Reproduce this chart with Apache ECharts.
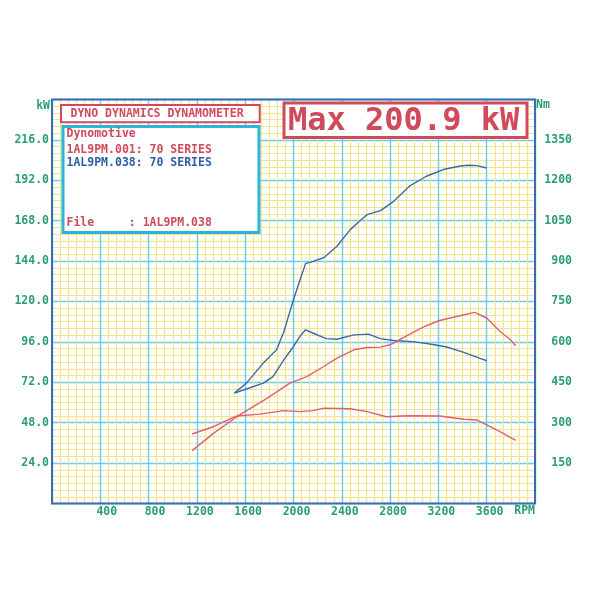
<!DOCTYPE html>
<html>
<head>
<meta charset="utf-8">
<script src="https://cdn.jsdelivr.net/npm/echarts@6/dist/echarts.min.js"></script>
<style>html,body{margin:0;padding:0;background:#fff}#c{width:600px;height:600px}</style>
</head>
<body>
<div id="c"></div>
<script>
// ---- data ----
const xTicks = [400, 800, 1200, 1600, 2000, 2400, 2800, 3200, 3600];
const kwTicks = [24, 48, 72, 96, 120, 144, 168, 192, 216];
const nmTicks = [150, 300, 450, 600, 750, 900, 1050, 1200, 1350];

// run 038 (blue)
const bluePowerRpm = [1510, 1610, 1750, 1860, 1920, 1970, 2000, 2050, 2100, 2160, 2250, 2360, 2470, 2550, 2610, 2720, 2830, 2960, 3100, 3240, 3380, 3450, 3520, 3600];
const bluePowerKw  = [65.6, 71.5, 83.4, 91.3, 102, 114, 121, 132, 142.5, 143.8, 146, 152.8, 162.7, 168, 171.6, 174, 179.5, 188.5, 194.4, 198.4, 200.5, 200.9, 200.7, 199.3];
const blueTorqueRpm = [1510, 1610, 1750, 1830, 1920, 2000, 2060, 2100, 2160, 2270, 2360, 2500, 2620, 2720, 2830, 2990, 3130, 3270, 3410, 3540, 3600];
const blueTorqueNm  = [410, 425, 447, 471, 533, 583, 625, 645, 633, 612, 610, 626, 629, 612, 605, 601, 592, 581, 561, 540, 530];

// run 001 (red)
const redPowerRpm = [1160, 1340, 1540, 1780, 1970, 2110, 2250, 2360, 2500, 2610, 2720, 2800, 2880, 2990, 3100, 3210, 3350, 3500, 3600, 3710, 3790, 3840];
const redPowerKw  = [31.4, 41.8, 52, 62.5, 71.5, 75.4, 81.4, 86.4, 91.3, 92.7, 92.9, 94.3, 97.3, 101.6, 105.6, 108.7, 111.1, 113.5, 110.2, 102.2, 97.7, 93.7];
const redTorqueRpm = [1160, 1340, 1530, 1720, 1920, 2050, 2160, 2250, 2470, 2610, 2770, 2940, 3210, 3410, 3520, 3600, 3710, 3840];
const redTorqueNm  = [258, 286, 325, 332, 345, 341, 345, 354, 352, 341, 322, 326, 325, 313, 310, 292, 267, 234];

const titleText = 'DYNO DYNAMICS DYNAMOMETER';
const infoLines = ['Dynomotive', '1AL9PM.001: 70 SERIES', '1AL9PM.038: 70 SERIES'];
const fileLine = 'File     : 1AL9PM.038';
const maxText = 'Max 200.9 kW';

// ---- style ----
const RED = '#d04a5c', RED_LINE = '#e35f6c', BLUE = '#2d5fa6', BLUE_LINE = '#3b69a9';
const GREEN = '#2a9e70', CYAN = '#6cccdf', YEL = '#f2e488', FRAME = '#3a6cb4', BOXCYAN = '#2bb3da';
const MONO = '"DejaVu Sans Mono", "Liberation Mono", monospace';
const zip = (a, b) => a.map((v, i) => [v, b[i]]);

const chart = echarts.init(document.getElementById('c'), null, {renderer: 'canvas'});
const lbl = {color: GREEN, fontFamily: MONO, fontWeight: 'bold', fontSize: 11.5};
const txt = (x, y, t, fill, extra) => ({type: 'text', x: x, y: y, z: 100,
  style: Object.assign({text: t, fill: fill, font: 'bold 11.5px ' + MONO, textVerticalAlign: 'middle', verticalAlign: 'middle'}, extra || {})});

chart.setOption({
  animation: false,
  backgroundColor: '#ffffff',
  grid: {left: 52, right: 65, top: 99.5, bottom: 96.5, show: true, backgroundColor: 'transparent', borderColor: FRAME, borderWidth: 2, z: 3},
  xAxis: {
    type: 'value', min: 0, max: 4000, interval: 400,
    axisLine: {show: false}, axisTick: {show: false},
    splitLine: {show: true, lineStyle: {color: CYAN, width: 1.4}},
    minorTick: {show: false, splitNumber: 6},
    minorSplitLine: {show: true, lineStyle: {color: YEL, width: 1.1}},
    axisLabel: Object.assign({}, lbl, {
      margin: 3, showMinLabel: false, showMaxLabel: false,
      formatter: v => xTicks.indexOf(v) >= 0 ? '{a|' + String(v).padStart(4, ' ') + '}' : '',
      rich: {a: {color: GREEN, fontFamily: MONO, fontWeight: 'bold', fontSize: 11.5, padding: [0, 0, 0, 6]}}
    })
  },
  yAxis: [{
    type: 'value', min: 0, max: 240, interval: 24, position: 'left',
    axisLine: {show: false}, axisTick: {show: false},
    splitLine: {show: true, lineStyle: {color: CYAN, width: 1.4}},
    minorTick: {show: false, splitNumber: 6},
    minorSplitLine: {show: true, lineStyle: {color: YEL, width: 1.1}},
    axisLabel: Object.assign({}, lbl, {margin: 3, showMinLabel: false, showMaxLabel: false,
      formatter: v => kwTicks.indexOf(v) >= 0 ? v.toFixed(1) : ''})
  }, {
    type: 'value', min: 0, max: 1500, interval: 150, position: 'right',
    axisLine: {show: false}, axisTick: {show: false}, splitLine: {show: false},
    axisLabel: Object.assign({}, lbl, {margin: 37, align: 'right', showMinLabel: false, showMaxLabel: false,
      formatter: v => nmTicks.indexOf(v) >= 0 ? String(v) : ''})
  }],
  series: [
    {name: '038 kW', type: 'line', yAxisIndex: 0, showSymbol: false, data: zip(bluePowerRpm, bluePowerKw), lineStyle: {color: BLUE_LINE, width: 1.4}, z: 5},
    {name: '038 Nm', type: 'line', yAxisIndex: 1, showSymbol: false, data: zip(blueTorqueRpm, blueTorqueNm), lineStyle: {color: BLUE_LINE, width: 1.4}, z: 5},
    {name: '001 kW', type: 'line', yAxisIndex: 0, showSymbol: false, data: zip(redPowerRpm, redPowerKw), lineStyle: {color: RED_LINE, width: 1.4}, z: 5},
    {name: '001 Nm', type: 'line', yAxisIndex: 1, showSymbol: false, data: zip(redTorqueRpm, redTorqueNm), lineStyle: {color: RED_LINE, width: 1.4}, z: 5}
  ],
  graphic: [
    {type: 'rect', z: 90, shape: {x: 61, y: 105, width: 198.7, height: 17.3}, style: {fill: '#fff', stroke: RED, lineWidth: 2}},
    {type: 'rect', z: 90, shape: {x: 63, y: 126.5, width: 196, height: 106}, style: {fill: '#fff', stroke: BOXCYAN, lineWidth: 3}},
    {type: 'rect', z: 90, shape: {x: 284, y: 103, width: 243, height: 34.5}, style: {fill: '#fff', stroke: RED, lineWidth: 3}},
    txt(70.5, 114, titleText, RED),
    txt(66.5, 134.5, infoLines[0], RED),
    txt(66.5, 150, infoLines[1], RED),
    txt(66.5, 162.7, infoLines[2], BLUE),
    txt(66.5, 223.3, fileLine, RED),
    txt(288, 122, maxText, RED, {font: 'bold 32px ' + MONO}),
    txt(50, 106.5, 'kW', GREEN, {textAlign: 'right', align: 'right'}),
    txt(536, 105, 'Nm', GREEN),
    txt(535, 511, 'RPM', GREEN, {textAlign: 'right', align: 'right'})
  ]
});
</script>
</body>
</html>
